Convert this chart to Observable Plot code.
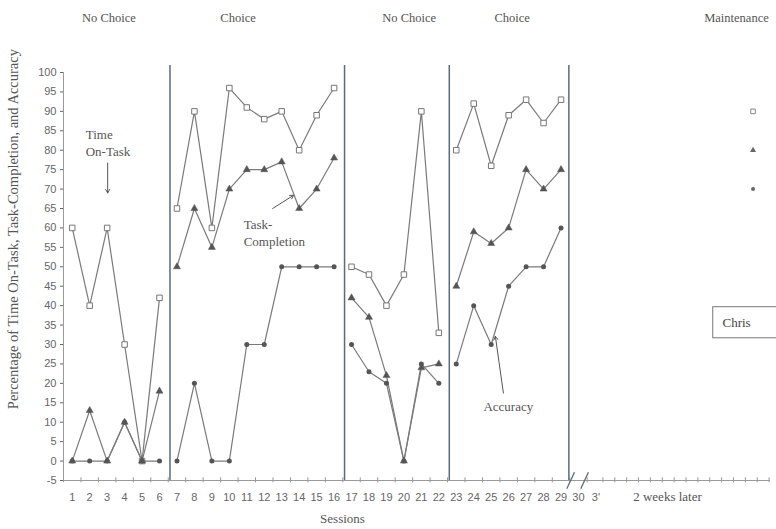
<!DOCTYPE html>
<html><head><meta charset="utf-8">
<script src="https://cdn.jsdelivr.net/npm/d3@7"></script>
<script src="https://cdn.jsdelivr.net/npm/@observablehq/plot@0.6"></script>
<style>body{margin:0;background:#fff}</style>
</head><body><div id="chart"></div>
<script>
// ---- data ----
const sessions = [1,2,3,4,5,6,7,8,9,10,11,12,13,14,15,16,17,18,19,20,21,22,23,24,25,26,27,28,29];
const phaseOf  = [1,1,1,1,1,1,2,2,2,2,2,2,2,2,2,2,3,3,3,3,3,3,4,4,4,4,4,4,4];
const onTask         = [60,40,60,30,0,42, 65,90,60,96,91,88,90,80,89,96, 50,48,40,48,90,33, 80,92,76,89,93,87,93];
const taskCompletion = [0,13,0,10,0,18, 50,65,55,70,75,75,77,65,70,78, 42,37,22,0,24,25, 45,59,56,60,75,70,75];
const accuracy       = [0,0,0,10,0,0, 0,20,0,0,30,30,50,50,50,50, 30,23,20,0,25,20, 25,40,30,45,50,50,60];
const maintenanceSession = 40;
const maintenanceOnTask = 90;
const maintenanceCompletion = 80;
const maintenanceAccuracy = 70;
const phaseBoundaries = [6.6, 16.6, 22.6, 29.45];
const phaseNames = ["No Choice", "Choice", "No Choice", "Choice", "Maintenance"];
const phaseLabelX = [3.1, 10.5, 20.3, 26.2, 39.05];
const xTickLabels = ["1","2","3","4","5","6","7","8","9","10","11","12","13","14","15","16","17","18","19","20","21","22","23","24","25","26","27","28","29","30","3'"];
const yTicks = [-5,0,5,10,15,20,25,30,35,40,45,50,55,60,65,70,75,80,85,90,95,100];
const axisBreaks = [29.55, 30.35];

// ---- table ----
const series = [
  {name: "onTask", values: onTask, m: maintenanceOnTask},
  {name: "taskCompletion", values: taskCompletion, m: maintenanceCompletion},
  {name: "accuracy", values: accuracy, m: maintenanceAccuracy}
];
const rows = [];
for (const s of series) sessions.forEach((x, i) => rows.push({series: s.name, session: x, value: s.values[i], phase: phaseOf[i]}));
const mrows = series.map(s => ({series: s.name, session: maintenanceSession, value: s.m}));
const tickPos = d3.range(0.5, 31, 1).concat(d3.range(31.4, 41, 0.68));

const serif = "Liberation Serif, Times New Roman, serif";
const sans = "Liberation Sans, Arial, sans-serif";
const txt = "#555";
const lineCol = "#7a7a7a";

const chart = Plot.plot({
  width: 776, height: 529,
  marginLeft: 63, marginRight: 6, marginTop: 72, marginBottom: 49,
  x: {domain: [0.5, 41], axis: null},
  y: {domain: [-5, 100], axis: null},
  style: {background: "#fff", overflow: "visible"},
  marks: [
    // axes
    Plot.ruleX([0.5], {y1: -5, y2: 100, stroke: "#9a9a9a", strokeWidth: 1}),
    Plot.ruleY([-5], {x1: 0.5, x2: 41, stroke: "#9a9a9a", strokeWidth: 1}),
    Plot.axisY(yTicks, {tickSize: 3, tickPadding: 4, fontSize: 11, fontFamily: sans, color: "#666", label: null, tickFormat: d => String(d)}),
    Plot.ruleX(tickPos, {y1: -5.6, y2: -4.3, stroke: "#9a9a9a"}),
    Plot.text(xTickLabels, {x: (d, i) => i + 1, y: -5, dy: 17, text: d => d, fontSize: 11, fontFamily: sans, fill: "#666"}),
    // phase lines
    Plot.ruleX(phaseBoundaries, {y1: -5, y2: 101.8, stroke: "#5b6b78", strokeWidth: 1.5}),
    Plot.link(axisBreaks, {x1: d => d - 0.22, x2: d => d + 0.22, y1: -7.1, y2: -2.9, stroke: "#5b6b78", strokeWidth: 1.3}),
    // data
    Plot.line(rows, {x: "session", y: "value", z: d => d.series + d.phase, stroke: lineCol, strokeWidth: 1.2}),
    Plot.dot(rows.filter(d => d.series === "onTask"), {x: "session", y: "value", symbol: "square", r: 3.1, fill: "#fff", stroke: "#777", strokeWidth: 1}),
    Plot.dot(rows.filter(d => d.series === "taskCompletion"), {x: "session", y: "value", symbol: "triangle", r: 2.6, fill: "#555", stroke: "#555", strokeWidth: 0.5}),
    Plot.dot(rows.filter(d => d.series === "accuracy"), {x: "session", y: "value", symbol: "circle", r: 2.5, fill: "#555"}),
    Plot.dot(mrows.filter(d => d.series === "onTask"), {x: "session", y: "value", symbol: "square", r: 2.6, fill: "#fff", stroke: "#888", strokeWidth: 1}),
    Plot.dot(mrows.filter(d => d.series === "taskCompletion"), {x: "session", y: "value", symbol: "triangle", r: 2.2, fill: "#666"}),
    Plot.dot(mrows.filter(d => d.series === "accuracy"), {x: "session", y: "value", symbol: "circle", r: 2, fill: "#666"}),
    // annotations
    Plot.text(["Time\nOn-Task"], {x: 1.77, y: 82.1, textAnchor: "start", lineHeight: 1.35, fontSize: 13, fontFamily: serif, fill: txt}),
    Plot.arrow([{a: 3.03, b: 76.7, c: 3.03, d: 69.0}], {x1: "a", y1: "b", x2: "c", y2: "d", stroke: "#555", headLength: 6, strokeWidth: 1}),
    Plot.text(["Task-\nCompletion"], {x: 10.82, y: 59.0, textAnchor: "start", lineHeight: 1.35, fontSize: 13, fontFamily: serif, fill: txt}),
    Plot.arrow([{a: 12.48, b: 65.0, c: 13.68, d: 68.4}], {x1: "a", y1: "b", x2: "c", y2: "d", stroke: "#555", headLength: 6, strokeWidth: 1}),
    Plot.text(["Accuracy"], {x: 25.98, y: 13.9, fontSize: 13, fontFamily: serif, fill: txt}),
    Plot.arrow([{a: 25.7, b: 17.5, c: 25.24, d: 32.1}], {x1: "a", y1: "b", x2: "c", y2: "d", stroke: "#555", headLength: 6, strokeWidth: 1}),
    Plot.rect([{a: 37.72, b: 41.6, c: 31.6, d: 39.6}], {x1: "a", x2: "b", y1: "c", y2: "d", fill: "none", stroke: "#777", strokeWidth: 1}),
    Plot.text(["Chris"], {x: 38.25, y: 35.7, textAnchor: "start", fontSize: 13, fontFamily: serif, fill: "#444"}),
    // titles
    Plot.text(phaseNames, {x: (d, i) => phaseLabelX[i], y: 114, text: d => d, fontSize: 12.5, fontFamily: serif, fill: txt}),
    Plot.text(["Sessions"], {x: 16.48, y: -14.9, fontSize: 13, fontFamily: serif, fill: txt}),
    Plot.text(["2 weeks later"], {x: 35.1, y: -9.2, fontSize: 13, fontFamily: serif, fill: txt}),
    Plot.text(["Percentage of Time On-Task, Task-Completion, and Accuracy"], {x: 0.5, dx: -50, y: 59.7, rotate: -90, fontSize: 14.5, fontFamily: serif, fill: txt})
  ]
});
document.getElementById("chart").appendChild(chart);
</script>
</body></html>
